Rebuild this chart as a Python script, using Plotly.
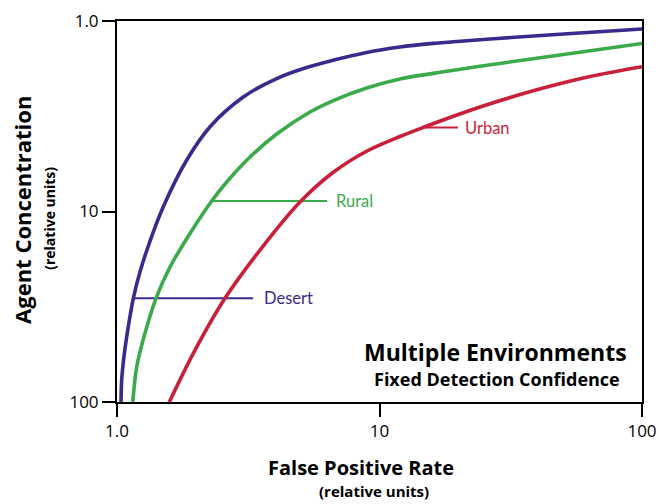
import math
import plotly.graph_objects as go

# Data (false positive rate vs agent concentration)
desert_x = [1.036, 1.042, 1.063, 1.104, 1.154, 1.223, 1.336, 1.501, 1.844, 2.262, 3.028, 4.059,
            5.436, 8.939, 11.97, 16.03, 22.13, 32.82, 48.72, 100]
desert_y = [100, 76.6, 57.85, 40.24, 28.55, 20.78, 14.29, 9.436, 5.366, 3.587, 2.506, 2.006,
            1.735, 1.462, 1.368, 1.311, 1.266, 1.218, 1.174, 1.101]

rural_x = [1.148, 1.189, 1.278, 1.408, 1.592, 1.897, 2.295, 2.618, 3.212, 4.059, 5.436, 6.668,
           8.939, 11.97, 18.08, 32.26, 48.72, 100]
rural_y = [100, 65.27, 43.59, 28.55, 19.56, 13.05, 8.81, 7.0, 5.174, 3.919, 3.004, 2.615,
           2.247, 2.016, 1.837, 1.632, 1.508, 1.313]

urban_x = [1.582, 1.953, 2.578, 3.506, 4.980, 6.650, 8.964, 11.97, 14.65, 18.56, 24.15, 31.42,
           43.46, 63.39, 100]
urban_y = [100, 55.52, 28.55, 15.93, 8.916, 6.241, 4.813, 4.04, 3.623, 3.211, 2.828, 2.521,
           2.221, 1.956, 1.738]

tick_vals = [1, 10, 100]
tick_text = ["1.0", "10", "100"]

PURPLE = "#3b2a8c"
GREEN = "#3aaa4a"
RED = "#c91f3a"

# name, x, y, colour, index of curve point where the leader starts, leader end x, label x
series = [
    ("Desert", desert_x, desert_y, PURPLE, 4, 3.30, 3.57),
    ("Rural", rural_x, rural_y, GREEN, 6, 6.31, 6.71),
    ("Urban", urban_x, urban_y, RED, 8, 19.9, 20.8),
]

fig = go.Figure()
for name, xs, ys, col, idx, line_end, text_x in series:
    fig.add_trace(go.Scatter(x=xs, y=ys, mode="lines", name=name,
                             line=dict(color=col, width=3.6, shape="spline", smoothing=0.9),
                             showlegend=False, hoverinfo="skip"))
    # leader line from the curve to the label
    fig.add_trace(go.Scatter(x=[xs[idx], line_end], y=[ys[idx], ys[idx]], mode="lines",
                             line=dict(color=col, width=2), showlegend=False, hoverinfo="skip"))
    fig.add_annotation(x=math.log10(text_x), y=math.log10(ys[idx]), xref="x", yref="y",
                       text=name, showarrow=False, xanchor="left", yanchor="middle",
                       font=dict(family="Lato", size=16.5, color=col))

axis_common = dict(type="log", tickvals=tick_vals, ticktext=tick_text, automargin=False,
                   showgrid=False, zeroline=False, showline=True, linecolor="black", linewidth=2,
                   mirror=True, ticks="outside", ticklen=13, tickwidth=2, tickcolor="black",
                   tickfont=dict(family="Open Sans", size=17, color="black"))
fig.update_xaxes(range=[0, 2], **axis_common)
fig.update_yaxes(range=[2, 0], **axis_common)

# axis titles
fig.add_annotation(xref="paper", yref="paper", x=0.465, y=-0.171, text="<b>False Positive Rate</b>",
                   showarrow=False, xanchor="center", yanchor="middle",
                   font=dict(family="Open Sans", size=20, color="black"))
fig.add_annotation(xref="paper", yref="paper", x=0.49, y=-0.234, text="<b>(relative units)</b>",
                   showarrow=False, xanchor="center", yanchor="middle",
                   font=dict(family="Open Sans", size=15, color="black"))
fig.add_annotation(xref="paper", yref="paper", x=-0.181, y=0.504, text="<b>Agent Concentration</b>",
                   showarrow=False, xanchor="center", yanchor="middle", textangle=-90,
                   font=dict(family="Open Sans", size=22, color="black"))
fig.add_annotation(xref="paper", yref="paper", x=-0.128, y=0.483, text="<b>(relative units)</b>",
                   showarrow=False, xanchor="center", yanchor="middle", textangle=-90,
                   font=dict(family="Open Sans", size=14, color="black"))

# in-plot title
fig.add_annotation(xref="paper", yref="paper", x=0.975, y=0.131, text="<b>Multiple Environments</b>",
                   showarrow=False, xanchor="right", yanchor="middle",
                   font=dict(family="Open Sans", size=23, color="black"))
fig.add_annotation(xref="paper", yref="paper", x=0.962, y=0.060, text="<b>Fixed Detection Confidence</b>",
                   showarrow=False, xanchor="right", yanchor="middle",
                   font=dict(family="Open Sans", size=18, color="black"))

fig.update_layout(width=659, height=504, margin=dict(l=117, r=17, t=21, b=102),
                  paper_bgcolor="white", plot_bgcolor="white")

# remove the default page margin so the figure fills the window exactly
fig.write_html("out.html", config={"displayModeBar": False},
               post_script="document.body.style.margin='0';document.body.style.overflow='hidden';")
